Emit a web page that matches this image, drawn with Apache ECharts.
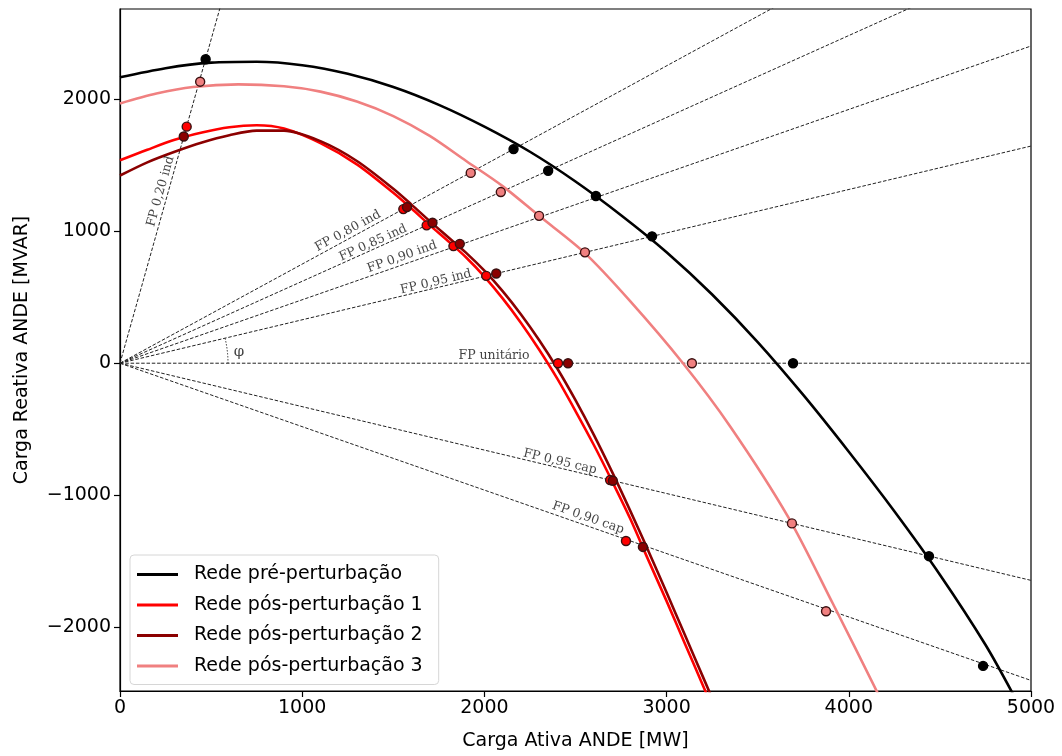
<!DOCTYPE html>
<html>
<head>
<meta charset="utf-8">
<script src="https://cdn.jsdelivr.net/npm/echarts@6/dist/echarts.min.js"></script>
<style>
  html, body { margin: 0; padding: 0; background: #fff; }
  #chart { width: 1062px; height: 756px; }
</style>
</head>
<body>
<div id="chart"></div>
<script>
// curvas [P (MW), Q (MVAR)]
const prePert = [[0,2163],[250,2232],[500,2274],[750,2281],[1000,2255],[1250,2190],[1500,2090],[1750,1955],[2000,1790],[2250,1600],[2500,1375],[2750,1120],[3000,840],[3250,520],[3500,160],[3750,-240],[4000,-670],[4250,-1120],[4500,-1600],[4750,-2130],[4900,-2500]]
const posPert1 = [[0,1535],[150,1615],[300,1690],[450,1745],[600,1785],[750,1800],[900,1775],[1100,1665],[1300,1505],[1500,1290],[1600,1170],[1700,1045],[1800,925],[1900,800],[2000,656],[2100,491],[2200,307],[2300,104],[2400,-117],[2500,-362],[2600,-617],[2700,-890],[2800,-1175],[2900,-1490],[3000,-1800],[3100,-2120],[3200,-2440],[3300,-2760]]
const posPert2 = [[0,1420],[150,1520],[300,1600],[450,1670],[600,1725],[750,1760],[900,1760],[1100,1680],[1300,1530],[1500,1320],[1600,1200],[1700,1075],[1800,955],[1900,835],[2000,700],[2100,545],[2200,370],[2300,175],[2400,-40],[2500,-280],[2600,-540],[2700,-820],[2800,-1115],[2900,-1420],[3000,-1735],[3100,-2055],[3200,-2375],[3300,-2695]]
const posPert3 = [[0,1965],[200,2040],[400,2090],[650,2110],[900,2095],[1100,2055],[1300,1980],[1500,1870],[1700,1720],[1900,1530],[2100,1340],[2300,1115],[2550,835],[2800,470],[3090,0],[3350,-480],[3666,-1160],[3913,-1820],[4160,-2500],[4200,-2620]]

// pontos de operação em cada FP (0,20 / 0,80 / 0,85 / 0,90 / 0,95 ind / unitário / 0,95 cap / 0,90 cap)
const prePertPts = [[470,2300],[2160,1620],[2350,1456],[2612,1265],[2920,960],[3694,0],[4440,-1460],[4737,-2290]]
const posPert1Pts = [[366,1790],[1555,1166],[1683,1043],[1830,886],[2010,661],[2404,0],[2690,-884],[2777,-1345]]
const posPert2Pts = [[350,1715],[1575,1181],[1715,1063],[1865,903],[2065,679],[2459,0],[2705,-889],[2870,-1390]]
const posPert3Pts = [[440,2130],[1925,1440],[2090,1295],[2300,1115],[2552,839],[3139,0],[3688,-1212],[3875,-1877]]

// retas de fator de potência: origem até a borda
const pfNames = ['FP 0,20 ind', 'FP 0,80 ind', 'FP 0,85 ind', 'FP 0,90 ind', 'FP 0,95 ind', 'FP unitário', 'FP 0,95 cap', 'FP 0,90 cap']
const pfLineEnds = [[560,2743],[5000,3750],[5000,3099],[5000,2400],[5000,1643],[5000,0],[5000,-1643],[5000,-2400]]
const pfLabelPos = [[223,1300],[1251,1001],[1389,910],[1548,804],[1734,615],[2053,55],[2415,-746],[2569,-1170]]
const pfLabelRot = [74.3, 28.6, 24.2, 19.4, 13.4, 0, -13.4, -19.4]

const xTicks = [0, 1000, 2000, 3000, 4000, 5000]
const yTicks = [-2000, -1000, 0, 1000, 2000]

const seriesNames = ['Rede pré-perturbação', 'Rede pós-perturbação 1', 'Rede pós-perturbação 2', 'Rede pós-perturbação 3']
const seriesColors = ['#000000', '#ff0000', '#8b0000', '#f08080']
const curves = [prePert, posPert1, posPert2, posPert3]
const points = [prePertPts, posPert1Pts, posPert2Pts, posPert3Pts]

const fontAxis = 'DejaVu Sans'
const fontNote = 'DejaVu Serif'
const minus = v => String(v).replace('-', '\u2212')

const chart = echarts.init(document.getElementById('chart'))

const buildOption = () => {
  const series = []

  pfLineEnds.forEach((end, i) => {
    series.push({
      name: pfNames[i],
      type: 'line',
      data: [[0, 0], end],
      symbol: 'none',
      silent: true,
      z: 1,
      lineStyle: { color: '#222', width: 1, type: [3.5, 1.8] }
    })
  })

  curves.forEach((c, i) => {
    series.push({
      name: seriesNames[i],
      type: 'line',
      data: c,
      smooth: 0.3,
      symbol: 'none',
      z: 3,
      lineStyle: { color: seriesColors[i], width: 2.6 },
      itemStyle: { color: seriesColors[i] }
    })
  })

  points.forEach((p, i) => {
    series.push({
      name: seriesNames[i] + ' pts',
      type: 'scatter',
      data: p,
      symbolSize: 9,
      z: 4,
      itemStyle: {
        color: seriesColors[i],
        opacity: 1,
        borderColor: i === 0 ? '#000' : '#3a1010',
        borderWidth: 1.4
      }
    })
  })

  // rótulos das retas de FP e do ângulo φ
  const notes = pfLabelPos.map((p, i) => ({
    value: p,
    label: { formatter: pfNames[i], rotate: pfLabelRot[i] }
  }))
  notes.push({ value: [653, 85], label: { formatter: 'φ', rotate: 0, fontSize: 15 } })
  series.push({
    type: 'scatter',
    data: notes,
    symbolSize: 0,
    silent: true,
    z: 5,
    label: {
      show: true,
      position: 'inside',
      align: 'center',
      verticalAlign: 'middle',
      fontFamily: fontNote,
      fontSize: 12.5,
      color: '#111'
    }
  })

  return {
    animation: false,
    grid: {
      left: 120, right: 31, top: 9, bottom: 65,
      show: true, borderColor: '#000', borderWidth: 1.2, backgroundColor: 'transparent'
    },
    legend: {
      data: seriesNames,
      orient: 'vertical',
      left: 130,
      top: 555,
      icon: 'rect',
      itemWidth: 41,
      itemHeight: 3,
      itemGap: 7.5,
      padding: [8, 16, 7, 7],
      backgroundColor: '#fff',
      borderColor: '#d6d6d6',
      borderWidth: 1,
      borderRadius: 4,
      textStyle: { fontFamily: fontAxis, fontSize: 19, color: '#000', lineHeight: 23, padding: [0, 0, 0, 11] }
    },
    xAxis: {
      type: 'value',
      min: 0,
      max: 5000,
      interval: 1000,
      name: 'Carga Ativa ANDE [MW]',
      nameLocation: 'middle',
      nameGap: 41,
      nameTextStyle: { fontFamily: fontAxis, fontSize: 19, color: '#000' },
      axisLine: { show: true, onZero: false, lineStyle: { color: '#000', width: 1.2 } },
      axisTick: { show: true, length: 6, lineStyle: { color: '#000', width: 1.2 } },
      axisLabel: { margin: 8, fontFamily: fontAxis, fontSize: 19, color: '#000', customValues: xTicks, formatter: v => String(v) },
      splitLine: { show: false }
    },
    yAxis: {
      type: 'value',
      min: -2480,
      max: 2680,
      name: 'Carga Reativa ANDE [MVAR]',
      nameLocation: 'middle',
      nameGap: 88,
      nameTextStyle: { fontFamily: fontAxis, fontSize: 19, color: '#000' },
      axisLine: { show: true, onZero: false, lineStyle: { color: '#000', width: 1.2 } },
      axisTick: { show: true, length: 6, customValues: yTicks, lineStyle: { color: '#000', width: 1.2 } },
      axisLabel: { margin: 9, fontFamily: fontAxis, fontSize: 19, color: '#000', customValues: yTicks, formatter: minus },
      splitLine: { show: false }
    },
    series
  }
}

chart.setOption(buildOption())

// arco pontilhado do ângulo φ entre a reta unitária e a de FP 0,95 ind
const o = chart.convertToPixel({ gridIndex: 0 }, [0, 0])
const e = chart.convertToPixel({ gridIndex: 0 }, pfLineEnds[4])
const ang = Math.atan2(e[1] - o[1], e[0] - o[0])
chart.setOption({
  graphic: [{
    type: 'arc',
    shape: { cx: o[0], cy: o[1], r: 108, startAngle: ang, endAngle: 0, clockwise: true },
    style: { stroke: '#333', lineWidth: 1, lineDash: [1.5, 1.5], fill: null },
    silent: true,
    z: 5
  }]
})

window.addEventListener('resize', () => chart.resize())
</script>
</body>
</html>
